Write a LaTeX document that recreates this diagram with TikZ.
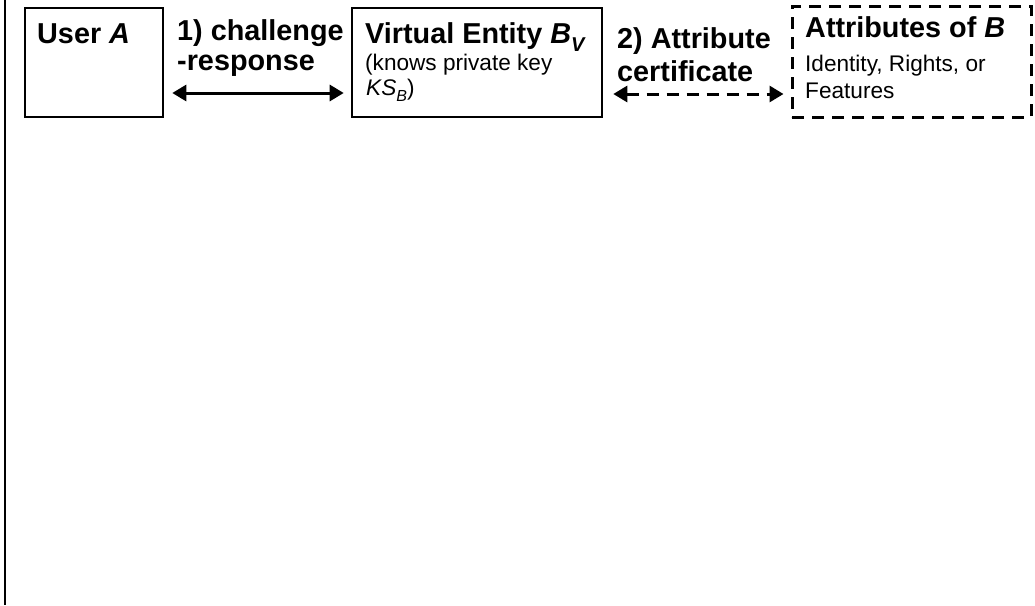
\documentclass[tikz,border=0pt]{standalone}
\usepackage{fontspec}
\setmainfont{Liberation Sans}
\usetikzlibrary{arrows.meta}
\newcommand{\mysub}[1]{\raisebox{-0.28em}{\fontsize{20}{20}\selectfont#1}}
\newcommand{\mysubs}[1]{\raisebox{-0.28em}{\fontsize{16}{16}\selectfont#1}}
\begin{document}
\begin{tikzpicture}[x=1pt,y=-1pt,
  big/.style={font=\fontsize{28.8}{30}\selectfont\bfseries,inner sep=0pt,anchor=base west},
  small/.style={font=\fontsize{22.6}{24}\selectfont,inner sep=0pt,anchor=base west},
  solidbox/.style={draw,line width=2.6pt,inner sep=0pt},
  dashbox/.style={draw,line width=3pt,dash pattern=on 12pt off 8pt,inner sep=0pt},
  biarrow/.style={line width=3pt,{Triangle[length=14pt,width=16pt]}-{Triangle[length=14pt,width=16pt]}},
  dasharrow/.style={biarrow,dash pattern=on 12pt off 8pt}]
\useasboundingbox (0,0) rectangle (1035,605);
\draw[line width=1.8pt] (5,0) -- (5,605);
% boxes
\node[solidbox,minimum width=138pt,minimum height=109pt] (ua) at (94,62.5) {};
\node[solidbox,minimum width=250pt,minimum height=109pt] (bv) at (477,62.5) {};
\node[dashbox,minimum width=239pt,minimum height=111pt] (at) at (911.5,61.5) {};
% texts
\node[big] (tua) at (37,43) {User \textit{A}};
\node[big] (tc1) at (177,40) {1) challenge};
\node[big] (tc2) at (177,70) {-response};
\node[big] (tbv) at (365,43) {Virtual Entity \textit{B}\mysub{\textit{V}}};
\node[small] (tk1) at (365,70) {(knows private key};
\node[small] (tk2) at (366,95) {\textit{KS}\mysubs{\textit{B}})};
\node[big] (ta1) at (617,48) {2) Attribute};
\node[big] (ta2) at (617,81) {certificate};
\node[big] (tat) at (805,37) {Attributes of \textit{B}};
\node[small] (ti1) at (805,71) {Identity, Rights, or};
\node[small] (ti2) at (805,98) {Features};
% connectors
\coordinate (c1a) at (ua.east |- 0,93);
\coordinate (c1b) at (bv.west |- 0,93);
\coordinate (c2a) at (bv.east |- 0,94);
\coordinate (c2b) at (at.west |- 0,94);
\draw[biarrow,shorten <=8pt,shorten >=7pt] (c1a) -- (c1b);
\draw[dasharrow,shorten <=10pt,shorten >=7pt] (c2a) -- (c2b);
\end{tikzpicture}
\end{document}
